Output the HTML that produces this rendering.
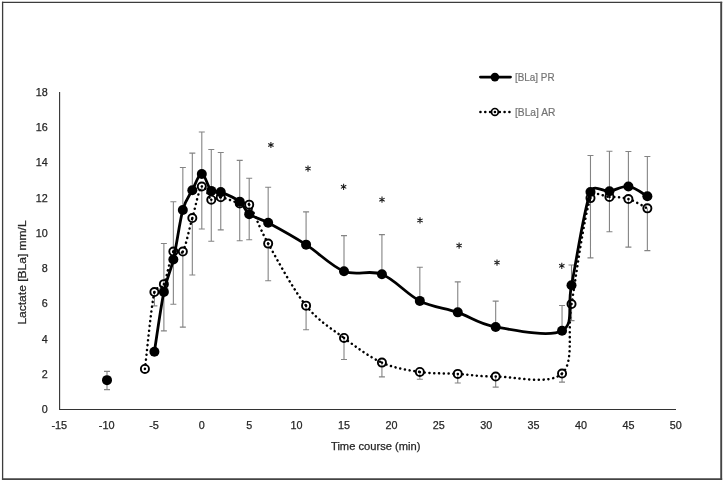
<!DOCTYPE html>
<html><head><meta charset="utf-8"><title>Chart</title>
<style>html,body{margin:0;padding:0;background:#fff;width:725px;height:482px;overflow:hidden;font-family:"Liberation Sans",sans-serif}</style></head>
<body>
<svg width="725" height="482" viewBox="0 0 725 482" style="position:absolute;left:0;top:0;will-change:transform;font-family:'Liberation Sans',sans-serif">
<rect x="0" y="0" width="725" height="482" fill="#fff"/>
<path d="M2.6 1.7 V480.1" stroke="#3c3c3c" stroke-width="1.3"/><path d="M1.95 2.4 H722.2" stroke="#3c3c3c" stroke-width="1.4"/><path d="M721.2 1.7 V480.1" stroke="#444" stroke-width="1.9"/><path d="M1.95 479.15 H722.15" stroke="#444" stroke-width="1.9"/>
<path d="M59.6 92 V409.5 H676" fill="none" stroke="#333" stroke-width="1.1"/>
<path d="M163.88 291.91 V243.43 M160.88 243.43 H166.88 M173.36 259.47 V201.82 M170.36 201.82 H176.36 M182.84 209.93 V167.44 M179.84 167.44 H185.84 M192.32 190.18 V153.16 M189.32 153.16 H195.32 M201.80 173.96 V132.00 M198.80 132.00 H204.80 M211.28 190.89 V149.46 M208.28 149.46 H214.28 M220.76 192.12 V152.45 M217.76 152.45 H223.76 M239.72 201.64 V160.39 M236.72 160.39 H242.72 M249.20 214.16 V178.19 M246.20 178.19 H252.20 M268.16 222.80 V187.19 M265.16 187.19 H271.16 M306.08 244.66 V211.87 M303.08 211.87 H309.08 M344.00 271.28 V235.67 M341.00 235.67 H347.00 M381.92 274.28 V234.61 M378.92 234.61 H384.92 M419.84 300.90 V267.23 M416.84 267.23 H422.84 M457.76 312.36 V281.86 M454.76 281.86 H460.76 M495.68 326.99 V301.08 M492.68 301.08 H498.68 M562.04 330.69 V305.48 M559.04 305.48 H565.04 M571.52 285.21 V264.93 M568.52 264.93 H574.52 M590.48 191.95 V155.45 M587.48 155.45 H593.48 M609.44 191.24 V151.22 M606.44 151.22 H612.44 M628.40 186.48 V151.57 M625.40 151.57 H631.40 M647.36 196.18 V156.51 M644.36 156.51 H650.36 M154.40 292.08 V305.84 M151.40 305.84 H157.40 M163.88 284.15 V330.87 M160.88 330.87 H166.88 M173.36 251.54 V304.25 M170.36 304.25 H176.36 M182.84 251.54 V327.17 M179.84 327.17 H185.84 M192.32 218.04 V274.98 M189.32 274.98 H195.32 M201.80 186.48 V228.97 M198.80 228.97 H204.80 M211.28 199.70 V241.31 M208.28 241.31 H214.28 M220.76 197.23 V229.85 M217.76 229.85 H223.76 M239.72 203.41 V240.78 M236.72 240.78 H242.72 M249.20 204.64 V239.72 M246.20 239.72 H252.20 M268.16 243.60 V280.80 M265.16 280.80 H271.16 M306.08 305.66 V329.81 M303.08 329.81 H309.08 M344.00 337.92 V359.43 M341.00 359.43 H347.00 M381.92 362.60 V376.88 M378.92 376.88 H384.92 M419.84 371.95 V379.18 M416.84 379.18 H422.84 M457.76 373.89 V383.06 M454.76 383.06 H460.76 M495.68 376.53 V387.11 M492.68 387.11 H498.68 M562.04 373.53 V382.17 M559.04 382.17 H565.04 M571.52 304.07 V320.64 M568.52 320.64 H574.52 M590.48 198.12 V257.88 M587.48 257.88 H593.48 M609.44 196.88 V231.79 M606.44 231.79 H612.44 M628.40 199.00 V247.13 M625.40 247.13 H631.40 M647.36 208.34 V250.65 M644.36 250.65 H650.36 M107.00 379.88 V371.42 M104.00 371.42 H110.00 M107.00 379.88 V389.58 M104.00 389.58 H110.00" fill="none" stroke="#848484" stroke-width="1.1"/>
<path d="M154.40 351.67 C155.98 341.71 160.72 307.28 163.88 291.91 C167.04 276.54 170.20 273.13 173.36 259.47 C176.52 245.81 179.68 221.48 182.84 209.93 C185.73 199.37 189.16 196.18 192.32 190.18 C195.48 184.19 198.64 173.85 201.80 173.96 C204.96 174.08 208.12 187.86 211.28 190.89 C214.44 193.91 216.29 190.43 220.76 192.12 C225.50 193.91 234.98 197.97 239.72 201.64 C244.46 205.32 244.46 210.63 249.20 214.16 C253.94 217.69 258.98 217.88 268.16 222.80 C277.64 227.88 293.44 236.58 306.08 244.66 C318.72 252.74 331.36 266.34 344.00 271.28 C356.64 276.22 369.28 269.34 381.92 274.28 C394.56 279.21 407.20 294.55 419.84 300.90 C432.48 307.25 445.12 308.01 457.76 312.36 C470.40 316.71 478.30 323.94 495.68 326.99 C513.06 330.05 549.40 337.66 562.04 330.69 C574.68 323.73 566.86 307.97 571.52 285.21 C576.26 262.08 584.16 207.61 590.48 191.95 C594.03 183.15 603.12 192.15 609.44 191.24 C615.76 190.33 622.08 185.66 628.40 186.48 C634.72 187.30 644.20 194.56 647.36 196.18" fill="none" stroke="#000" stroke-width="2.8" stroke-linejoin="round" stroke-linecap="round"/>
<circle cx="107.00" cy="380.15" r="5" fill="#000"/>
<circle cx="154.40" cy="351.67" r="5" fill="#000"/>
<circle cx="163.88" cy="291.91" r="5" fill="#000"/>
<circle cx="173.36" cy="259.47" r="5" fill="#000"/>
<circle cx="182.84" cy="209.93" r="5" fill="#000"/>
<circle cx="192.32" cy="190.18" r="5" fill="#000"/>
<circle cx="201.80" cy="173.96" r="5" fill="#000"/>
<circle cx="211.28" cy="190.89" r="5" fill="#000"/>
<circle cx="220.76" cy="192.12" r="5" fill="#000"/>
<circle cx="239.72" cy="201.64" r="5" fill="#000"/>
<circle cx="249.20" cy="214.16" r="5" fill="#000"/>
<circle cx="268.16" cy="222.80" r="5" fill="#000"/>
<circle cx="306.08" cy="244.66" r="5" fill="#000"/>
<circle cx="344.00" cy="271.28" r="5" fill="#000"/>
<circle cx="381.92" cy="274.28" r="5" fill="#000"/>
<circle cx="419.84" cy="300.90" r="5" fill="#000"/>
<circle cx="457.76" cy="312.36" r="5" fill="#000"/>
<circle cx="495.68" cy="326.99" r="5" fill="#000"/>
<circle cx="562.04" cy="330.69" r="5" fill="#000"/>
<circle cx="571.52" cy="285.21" r="5" fill="#000"/>
<circle cx="590.48" cy="191.95" r="5" fill="#000"/>
<circle cx="609.44" cy="191.24" r="5" fill="#000"/>
<circle cx="628.40" cy="186.48" r="5" fill="#000"/>
<circle cx="647.36" cy="196.18" r="5" fill="#000"/>
<g fill="none" stroke="#000" stroke-width="2.5" stroke-dasharray="0.1 4.7" stroke-linecap="round">
<path d="M144.92 368.95 C146.50 356.14 151.24 306.22 154.40 292.08"/>
<path d="M154.40 292.08 C155.75 286.05 161.26 289.75 163.88 284.15"/>
<path d="M163.88 284.15 C167.04 277.39 170.20 256.97 173.36 251.54"/>
<path d="M173.36 251.54 C175.74 247.44 180.51 255.66 182.84 251.54"/>
<path d="M182.84 251.54 C186.00 245.95 189.16 228.88 192.32 218.04"/>
<path d="M192.32 218.04 C195.48 207.20 198.64 189.54 201.80 186.48"/>
<path d="M201.80 186.48 C204.96 183.42 208.12 197.91 211.28 199.70"/>
<path d="M211.28 199.70 C214.44 201.50 216.02 196.62 220.76 197.23"/>
<path d="M220.76 197.23 C225.50 197.85 234.98 202.17 239.72 203.41"/>
<path d="M239.72 203.41 C244.35 204.61 246.44 200.74 249.20 204.64"/>
<path d="M249.20 204.64 C253.94 211.34 258.68 226.77 268.16 243.60"/>
<path d="M268.16 243.60 C277.64 260.44 293.44 289.94 306.08 305.66"/>
<path d="M306.08 305.66 C318.72 321.38 331.36 328.43 344.00 337.92"/>
<path d="M344.00 337.92 C356.64 347.41 369.28 356.93 381.92 362.60"/>
<path d="M381.92 362.60 C394.56 368.28 407.20 370.07 419.84 371.95"/>
<path d="M419.84 371.95 C432.48 373.83 445.12 373.12 457.76 373.89"/>
<path d="M457.76 373.89 C470.40 374.65 478.30 376.59 495.68 376.53"/>
<path d="M495.68 376.53 C513.06 376.47 549.40 385.61 562.04 373.53"/>
<path d="M562.04 373.53 C574.68 361.46 566.78 333.31 571.52 304.07"/>
<path d="M571.52 304.07 C576.26 274.84 584.16 215.98 590.48 198.12"/>
<path d="M590.48 198.12 C593.65 189.16 603.12 196.74 609.44 196.88"/>
<path d="M609.44 196.88 C615.76 197.03 622.08 197.09 628.40 199.00"/>
<path d="M628.40 199.00 C634.72 200.91 644.20 206.78 647.36 208.34"/>
</g>
<circle cx="144.92" cy="368.95" r="4.05" fill="none" stroke="#000" stroke-width="1.9"/>
<circle cx="154.40" cy="292.08" r="4.05" fill="none" stroke="#000" stroke-width="1.9"/>
<circle cx="163.88" cy="284.15" r="4.05" fill="none" stroke="#000" stroke-width="1.9"/>
<circle cx="173.36" cy="251.54" r="4.05" fill="none" stroke="#000" stroke-width="1.9"/>
<circle cx="182.84" cy="251.54" r="4.05" fill="none" stroke="#000" stroke-width="1.9"/>
<circle cx="192.32" cy="218.04" r="4.05" fill="none" stroke="#000" stroke-width="1.9"/>
<circle cx="201.80" cy="186.48" r="4.05" fill="none" stroke="#000" stroke-width="1.9"/>
<circle cx="211.28" cy="199.70" r="4.05" fill="none" stroke="#000" stroke-width="1.9"/>
<circle cx="220.76" cy="197.23" r="4.05" fill="none" stroke="#000" stroke-width="1.9"/>
<circle cx="239.72" cy="203.41" r="4.05" fill="none" stroke="#000" stroke-width="1.9"/>
<circle cx="249.20" cy="204.64" r="4.05" fill="none" stroke="#000" stroke-width="1.9"/>
<circle cx="268.16" cy="243.60" r="4.05" fill="none" stroke="#000" stroke-width="1.9"/>
<circle cx="306.08" cy="305.66" r="4.05" fill="none" stroke="#000" stroke-width="1.9"/>
<circle cx="344.00" cy="337.92" r="4.05" fill="none" stroke="#000" stroke-width="1.9"/>
<circle cx="381.92" cy="362.60" r="4.05" fill="none" stroke="#000" stroke-width="1.9"/>
<circle cx="419.84" cy="371.95" r="4.05" fill="none" stroke="#000" stroke-width="1.9"/>
<circle cx="457.76" cy="373.89" r="4.05" fill="none" stroke="#000" stroke-width="1.9"/>
<circle cx="495.68" cy="376.53" r="4.05" fill="none" stroke="#000" stroke-width="1.9"/>
<circle cx="562.04" cy="373.53" r="4.05" fill="none" stroke="#000" stroke-width="1.9"/>
<circle cx="571.52" cy="304.07" r="4.05" fill="none" stroke="#000" stroke-width="1.9"/>
<circle cx="590.48" cy="198.12" r="4.05" fill="none" stroke="#000" stroke-width="1.9"/>
<circle cx="609.44" cy="196.88" r="4.05" fill="none" stroke="#000" stroke-width="1.9"/>
<circle cx="628.40" cy="199.00" r="4.05" fill="none" stroke="#000" stroke-width="1.9"/>
<circle cx="647.36" cy="208.34" r="4.05" fill="none" stroke="#000" stroke-width="1.9"/>
<path d="M270.90 141.90 L270.90 148.10 M268.22 143.45 L273.58 146.55 M273.58 143.45 L268.22 146.55" stroke="#1a1a1a" stroke-width="1.05" fill="none"/>
<path d="M308.00 165.50 L308.00 171.70 M305.32 167.05 L310.68 170.15 M310.68 167.05 L305.32 170.15" stroke="#1a1a1a" stroke-width="1.05" fill="none"/>
<path d="M343.60 183.70 L343.60 189.90 M340.92 185.25 L346.28 188.35 M346.28 185.25 L340.92 188.35" stroke="#1a1a1a" stroke-width="1.05" fill="none"/>
<path d="M382.00 196.60 L382.00 202.80 M379.32 198.15 L384.68 201.25 M384.68 198.15 L379.32 201.25" stroke="#1a1a1a" stroke-width="1.05" fill="none"/>
<path d="M420.00 217.30 L420.00 223.50 M417.32 218.85 L422.68 221.95 M422.68 218.85 L417.32 221.95" stroke="#1a1a1a" stroke-width="1.05" fill="none"/>
<path d="M459.10 242.50 L459.10 248.70 M456.42 244.05 L461.78 247.15 M461.78 244.05 L456.42 247.15" stroke="#1a1a1a" stroke-width="1.05" fill="none"/>
<path d="M497.00 259.50 L497.00 265.70 M494.32 261.05 L499.68 264.15 M499.68 261.05 L494.32 264.15" stroke="#1a1a1a" stroke-width="1.05" fill="none"/>
<path d="M561.80 262.70 L561.80 268.90 M559.12 264.25 L564.48 267.35 M564.48 264.25 L559.12 267.35" stroke="#1a1a1a" stroke-width="1.05" fill="none"/>
<path d="M480.4 77.1 H510.5" stroke="#000" stroke-width="2.8" stroke-linecap="round"/>
<circle cx="494.9" cy="77.1" r="4.3" fill="#000"/>
<path d="M480.4 111.9 H509.6" stroke="#000" stroke-width="2.5" stroke-dasharray="0.1 4.73" stroke-linecap="round"/>
<circle cx="494.9" cy="111.9" r="3.4" fill="none" stroke="#000" stroke-width="1.7"/>
<g font-size="10.8px" fill="#747474" stroke="#747474" stroke-width="0.2">
<text x="515" y="80.9" textLength="39.6" lengthAdjust="spacingAndGlyphs">[BLa] PR</text>
<text x="515" y="115.7" textLength="40.4" lengthAdjust="spacingAndGlyphs">[BLa] AR</text>
</g>
<g font-size="10.8px" fill="#262626" stroke="#262626" stroke-width="0.25" text-anchor="end">
<text x="47.8" y="413.2" textLength="6.0" lengthAdjust="spacingAndGlyphs">0</text>
<text x="47.8" y="377.9" textLength="6.0" lengthAdjust="spacingAndGlyphs">2</text>
<text x="47.8" y="342.7" textLength="6.0" lengthAdjust="spacingAndGlyphs">4</text>
<text x="47.8" y="307.4" textLength="6.0" lengthAdjust="spacingAndGlyphs">6</text>
<text x="47.8" y="272.2" textLength="6.0" lengthAdjust="spacingAndGlyphs">8</text>
<text x="47.8" y="236.9" textLength="12.0" lengthAdjust="spacingAndGlyphs">10</text>
<text x="47.8" y="201.6" textLength="12.0" lengthAdjust="spacingAndGlyphs">12</text>
<text x="47.8" y="166.4" textLength="12.0" lengthAdjust="spacingAndGlyphs">14</text>
<text x="47.8" y="131.1" textLength="12.0" lengthAdjust="spacingAndGlyphs">16</text>
<text x="47.8" y="95.9" textLength="12.0" lengthAdjust="spacingAndGlyphs">18</text>
</g>
<g font-size="10.8px" fill="#262626" stroke="#262626" stroke-width="0.25" text-anchor="middle">
<text x="59.3" y="429.4" textLength="15.8" lengthAdjust="spacingAndGlyphs">-15</text>
<text x="106.7" y="429.4" textLength="15.8" lengthAdjust="spacingAndGlyphs">-10</text>
<text x="154.1" y="429.4" textLength="9.8" lengthAdjust="spacingAndGlyphs">-5</text>
<text x="201.8" y="429.4" textLength="6.0" lengthAdjust="spacingAndGlyphs">0</text>
<text x="249.2" y="429.4" textLength="6.0" lengthAdjust="spacingAndGlyphs">5</text>
<text x="296.6" y="429.4" textLength="12.0" lengthAdjust="spacingAndGlyphs">10</text>
<text x="344.0" y="429.4" textLength="12.0" lengthAdjust="spacingAndGlyphs">15</text>
<text x="391.4" y="429.4" textLength="12.0" lengthAdjust="spacingAndGlyphs">20</text>
<text x="438.8" y="429.4" textLength="12.0" lengthAdjust="spacingAndGlyphs">25</text>
<text x="486.2" y="429.4" textLength="12.0" lengthAdjust="spacingAndGlyphs">30</text>
<text x="533.6" y="429.4" textLength="12.0" lengthAdjust="spacingAndGlyphs">35</text>
<text x="581.0" y="429.4" textLength="12.0" lengthAdjust="spacingAndGlyphs">40</text>
<text x="628.4" y="429.4" textLength="12.0" lengthAdjust="spacingAndGlyphs">45</text>
<text x="675.8" y="429.4" textLength="12.0" lengthAdjust="spacingAndGlyphs">50</text>
</g>
<text x="375.7" y="450.3" font-size="10.8px" fill="#262626" stroke="#262626" stroke-width="0.25" text-anchor="middle" textLength="89.4" lengthAdjust="spacingAndGlyphs">Time course (min)</text>
<text transform="translate(26.1 272.5) rotate(-90)" font-size="11.3px" fill="#262626" stroke="#262626" stroke-width="0.25" text-anchor="middle" textLength="104.2" lengthAdjust="spacingAndGlyphs">Lactate [BLa] mm/L</text>
</svg>
</body></html>
